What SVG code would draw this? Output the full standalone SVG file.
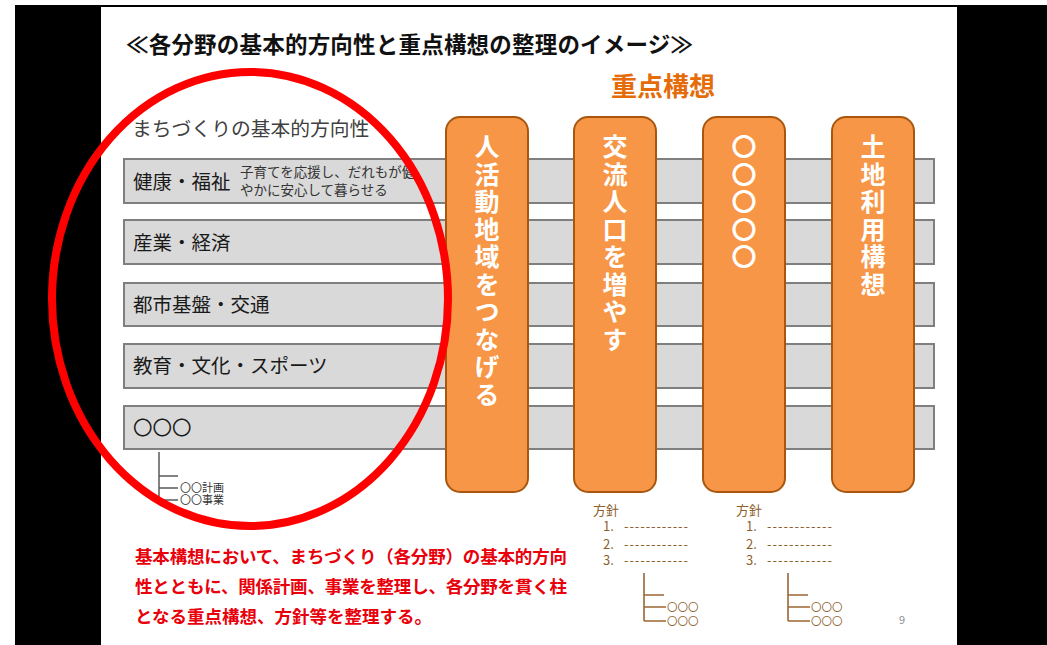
<svg xmlns="http://www.w3.org/2000/svg" width="1047" height="645" viewBox="0 0 1047 645">
<style>
text{font-family:"Noto Sans CJK JP","Noto Sans",sans-serif}
.bar{fill:#D9D9D9;stroke:#7F7F7F;stroke-width:2}
.lbl{font-size:19.5px;fill:#1a1a1a}
.sm{font-size:13.5px;fill:#333}
.pil{fill:#F79646;stroke:#A9570F;stroke-width:2}
.pt{font-size:25px;font-weight:bold;fill:#fff;writing-mode:vertical-rl;text-orientation:upright;letter-spacing:2.5px}
.red{font-size:17.5px;font-weight:bold;fill:#E8000B}
.br{font-size:13px;fill:#8E5F2E}
.oo{font-size:10.5px;fill:#8E5F2E}
.brl{stroke:#9A6633;stroke-width:1.6;fill:none}
.gl{stroke:#595959;stroke-width:1.5;fill:none}
.tiny{font-size:11px;fill:#333}
</style>
<rect x="0" y="0" width="1047" height="645" fill="#fff"/>
<rect x="15" y="5" width="1032" height="640" fill="#000"/>
<rect x="101" y="7" width="856" height="638" fill="#fff"/>

<g id="title">
<text x="126" y="53" font-size="22.5" font-weight="bold" fill="#111" textLength="567" lengthAdjust="spacing">≪各分野の基本的方向性と重点構想の整理のイメージ≫</text>
</g>
<g id="header-focus">
<text x="663" y="96" font-size="26" font-weight="bold" fill="#E46C0A" text-anchor="middle">重点構想</text>
</g>
<g id="header-basic">
<text x="132" y="136" font-size="19.8" fill="#404040">まちづくりの基本的方向性</text>
</g>

<g id="bar1"><rect class="bar" x="124" y="159" width="810" height="44"/>
<text class="lbl" x="133" y="188.5">健康・福祉</text>
<text class="sm" x="240" y="177">子育てを応援し、だれもが健</text>
<text class="sm" x="240" y="195">やかに安心して暮らせる</text></g>
<g id="bar2"><rect class="bar" x="124" y="220" width="810" height="44"/>
<text class="lbl" x="133" y="249.5">産業・経済</text></g>
<g id="bar3"><rect class="bar" x="124" y="283" width="810" height="43"/>
<text class="lbl" x="133" y="311.5">都市基盤・交通</text></g>
<g id="bar4"><rect class="bar" x="124" y="344" width="810" height="44"/>
<text class="lbl" x="133" y="373">教育・文化・スポーツ</text></g>
<g id="bar5"><rect class="bar" x="124" y="406" width="810" height="43"/>
<text class="lbl" x="133" y="434.5">〇〇〇</text></g>

<g id="pillar1"><rect class="pil" x="446" y="117" width="82" height="375" rx="14"/>
<text class="pt" x="487" y="134">人活動地域をつなげる</text></g>
<g id="pillar2"><rect class="pil" x="574" y="117" width="82" height="375" rx="14"/>
<text class="pt" x="615" y="134">交流人口を増やす</text></g>
<g id="pillar3"><rect class="pil" x="703" y="117" width="82" height="375" rx="14"/>
<text class="pt" x="744" y="134" font-weight="normal">〇〇〇〇〇</text></g>
<g id="pillar4"><rect class="pil" x="832" y="117" width="82" height="375" rx="14"/>
<text class="pt" x="873" y="134">土地利用構想</text></g>

<g id="connectors">
<path class="gl" d="M159 452V500M159 476H178M159 488H178M159 500H178"/>
<path class="brl" d="M644 573V621M644 595H664M644 607H666M644 621H666"/>
<path class="brl" d="M788 573V621M788 595H808M788 607H810M788 621H810"/>
</g>

<g id="sub-left">
<text class="tiny" x="180" y="492">〇〇計画</text>
<text class="tiny" x="180" y="504">〇〇事業</text>
</g>

<g id="policy1">
<text class="br" x="593" y="515">方針</text>
<text class="br" x="603" y="531">1. <tspan x="624" textLength="64" lengthAdjust="spacing">------------</tspan></text>
<text class="br" x="603" y="549">2. <tspan x="624" textLength="64" lengthAdjust="spacing">------------</tspan></text>
<text class="br" x="603" y="565">3. <tspan x="624" textLength="64" lengthAdjust="spacing">------------</tspan></text>
<text class="oo" x="667" y="611">〇〇〇</text>
<text class="oo" x="667" y="625">〇〇〇</text>
</g>
<g id="policy2">
<text class="br" x="736" y="515">方針</text>
<text class="br" x="746" y="531">1. <tspan x="767" textLength="65" lengthAdjust="spacing">------------</tspan></text>
<text class="br" x="746" y="549">2. <tspan x="767" textLength="65" lengthAdjust="spacing">------------</tspan></text>
<text class="br" x="746" y="565">3. <tspan x="767" textLength="65" lengthAdjust="spacing">------------</tspan></text>
<text class="oo" x="811" y="611">〇〇〇</text>
<text class="oo" x="811" y="625">〇〇〇</text>
</g>

<g id="note">
<text class="red" x="135" y="563" textLength="432" lengthAdjust="spacing">基本構想において、まちづくり（各分野）の基本的方向</text>
<text class="red" x="135" y="593" textLength="432" lengthAdjust="spacing">性とともに、関係計画、事業を整理し、各分野を貫く柱</text>
<text class="red" x="135" y="623">となる重点構想、方針等を整理する。</text>
</g>

<g id="page"><text x="902" y="624" font-size="11" fill="#8c8c8c" text-anchor="middle">9</text></g>

<g id="highlight"><ellipse cx="250" cy="299" rx="198" ry="227" fill="none" stroke="#FF0000" stroke-width="8"/></g>
</svg>
